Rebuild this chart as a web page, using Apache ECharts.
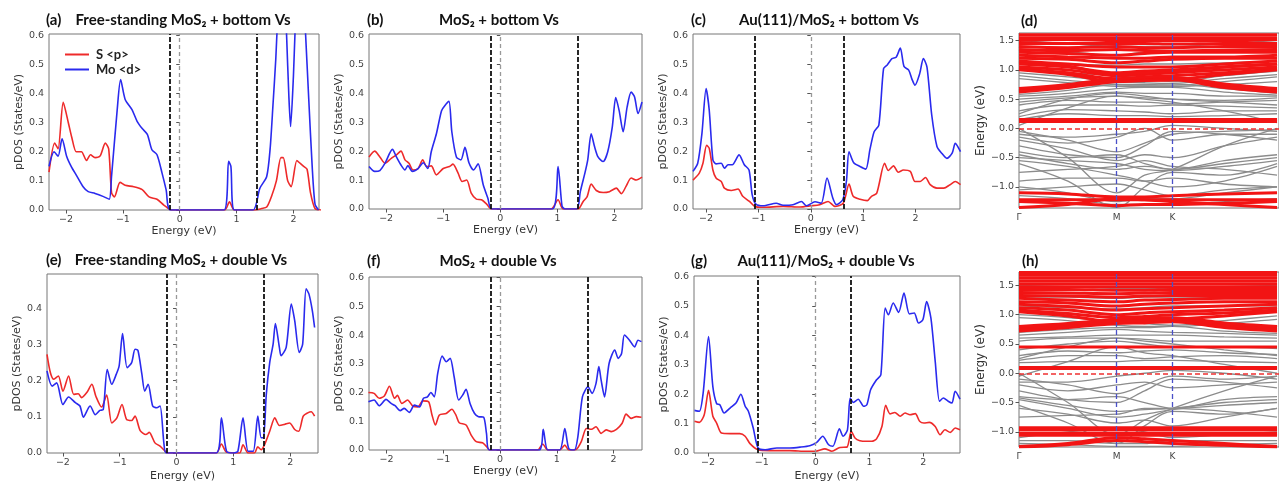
<!DOCTYPE html>
<html>
<head>
<meta charset="utf-8">
<script src="https://cdn.jsdelivr.net/npm/echarts@6/dist/echarts.min.js"></script>
<style>
  html, body { margin: 0; padding: 0; background: #fff; }
  #chart { width: 1279px; height: 483px; }
</style>
</head>
<body>
<div id="chart"></div>
<script>
// tick values
var energyTicks = [-2, -1, 0, 1, 2];
var pdosTicks = [0, 0.1, 0.2, 0.3, 0.4, 0.5, 0.6];
var pdosTicksE = [0, 0.1, 0.2, 0.3, 0.4];
var bandTicks = [-1.0, -0.5, 0, 0.5, 1.0, 1.5];
var kPoints = [0, 1, 1.57];
var kLabels = ['Γ', 'M', 'K'];
// k positions of the band samples: Γ, mid ΓM, M, mid MK, K, along KΓ, right edge
var bandK = [0, 0.5, 1, 1.285, 1.57, 2.1, 2.64];

// pDOS, [energy, value]
var aS = [[-2.30,0.13],[-2.2,0.23],[-2.14,0.21],[-2.05,0.37],[-1.96,0.30],[-1.9,0.25],[-1.82,0.20],[-1.73,0.20],[-1.64,0.17],[-1.57,0.19],[-1.49,0.18],[-1.40,0.186],[-1.31,0.23],[-1.25,0.21],[-1.2,0.06],[-1.15,0.045],[-1.05,0.095],[-0.96,0.085],[-0.81,0.08],[-0.66,0.07],[-0.54,0.045],[-0.40,0.037],[-0.28,0.017],[-0.17,0.002],[-0.1,0],[0.79,0],[0.875,0.028],[0.96,0],[1.32,0],[1.44,0.005],[1.53,0.01],[1.62,0.05],[1.7,0.1],[1.78,0.18],[1.82,0.18],[1.9,0.10],[1.96,0.08],[2.06,0.17],[2.12,0.16],[2.18,0.15],[2.24,0.14],[2.30,0.06],[2.38,0.005],[2.49,0]];
var aMo = [[-2.30,0.15],[-2.21,0.20],[-2.14,0.185],[-2.07,0.245],[-1.99,0.185],[-1.91,0.15],[-1.82,0.12],[-1.70,0.08],[-1.61,0.063],[-1.49,0.057],[-1.34,0.046],[-1.24,0.037],[-1.2,0.115],[-1.1,0.345],[-1.04,0.448],[-0.96,0.38],[-0.84,0.345],[-0.75,0.305],[-0.66,0.28],[-0.57,0.26],[-0.49,0.207],[-0.40,0.19],[-0.31,0.126],[-0.24,0.07],[-0.16,0],[0.78,0],[0.86,0.167],[0.9,0.15],[0.96,0],[1.29,0],[1.41,0.075],[1.53,0.115],[1.59,0.21],[1.64,0.36],[1.69,0.52],[1.72,0.65],[1.78,0.85],[1.84,0.8],[1.88,0.6],[1.92,0.39],[1.95,0.287],[2.0,0.46],[2.03,0.62],[2.08,0.8],[2.15,0.85],[2.21,0.62],[2.27,0.38],[2.33,0.15],[2.38,0.02],[2.44,0]];
var bS = [[-2.30,0.18],[-2.2,0.2],[-2.11,0.18],[-2.02,0.158],[-1.91,0.175],[-1.82,0.187],[-1.74,0.2],[-1.67,0.17],[-1.6,0.158],[-1.53,0.135],[-1.44,0.14],[-1.36,0.17],[-1.29,0.147],[-1.21,0.149],[-1.12,0.118],[-1.0,0.14],[-0.89,0.147],[-0.83,0.155],[-0.74,0.124],[-0.67,0.095],[-0.59,0.1],[-0.51,0.055],[-0.42,0.034],[-0.33,0.032],[-0.24,0.017],[-0.16,0],[0.89,0],[1.01,0.032],[1.1,0],[1.36,0],[1.45,0.026],[1.52,0.043],[1.59,0.086],[1.68,0.064],[1.8,0.057],[1.91,0.06],[2.03,0.072],[2.12,0.053],[2.2,0.078],[2.29,0.107],[2.38,0.1],[2.48,0.11]];
var bMo = [[-2.30,0.147],[-2.2,0.13],[-2.11,0.133],[-2.02,0.158],[-1.89,0.206],[-1.82,0.18],[-1.74,0.152],[-1.67,0.135],[-1.62,0.15],[-1.54,0.13],[-1.44,0.14],[-1.35,0.16],[-1.27,0.14],[-1.21,0.198],[-1.12,0.26],[-1.03,0.34],[-0.97,0.358],[-0.90,0.372],[-0.85,0.267],[-0.77,0.18],[-0.69,0.17],[-0.62,0.213],[-0.55,0.16],[-0.47,0.135],[-0.39,0.156],[-0.30,0.084],[-0.22,0.038],[-0.15,0],[0.91,0],[1.01,0.147],[1.08,0.01],[1.13,0],[1.34,0],[1.40,0.06],[1.48,0.124],[1.53,0.17],[1.59,0.26],[1.65,0.215],[1.71,0.18],[1.8,0.164],[1.88,0.198],[1.96,0.284],[2.02,0.385],[2.08,0.34],[2.15,0.267],[2.22,0.353],[2.29,0.404],[2.35,0.387],[2.41,0.33],[2.48,0.37]];
var cS = [[-2.25,0.10],[-2.13,0.124],[-2.06,0.158],[-1.99,0.22],[-1.94,0.21],[-1.87,0.135],[-1.81,0.107],[-1.71,0.095],[-1.65,0.072],[-1.52,0.064],[-1.39,0.069],[-1.30,0.044],[-1.17,0.026],[-1.07,0.009],[-0.91,0.006],[-0.53,0.009],[-0.21,0.007],[0,0.011],[0.17,0.015],[0.33,0.026],[0.46,0.009],[0.62,0.02],[0.73,0.086],[0.81,0.044],[0.94,0.034],[1.08,0.029],[1.16,0.044],[1.26,0.055],[1.41,0.158],[1.48,0.133],[1.58,0.149],[1.67,0.127],[1.77,0.135],[1.90,0.13],[1.99,0.095],[2.09,0.095],[2.19,0.109],[2.28,0.084],[2.41,0.072],[2.54,0.072],[2.66,0.084],[2.76,0.095],[2.86,0.084]];
var cMo = [[-2.25,0.13],[-2.16,0.158],[-2.08,0.26],[-2.0,0.416],[-1.94,0.342],[-1.87,0.17],[-1.81,0.156],[-1.71,0.158],[-1.65,0.141],[-1.58,0.153],[-1.50,0.153],[-1.37,0.187],[-1.27,0.153],[-1.18,0.135],[-1.12,0.05],[-1.05,0.017],[-0.91,0.011],[-0.66,0.02],[-0.53,0.013],[-0.34,0.015],[-0.18,0.026],[-0.08,0.011],[0.08,0.025],[0.2,0.02],[0.31,0.107],[0.42,0.038],[0.49,0.015],[0.61,0.032],[0.68,0.095],[0.73,0.198],[0.82,0.16],[0.94,0.147],[1.05,0.138],[1.13,0.206],[1.21,0.267],[1.30,0.29],[1.39,0.485],[1.46,0.498],[1.55,0.52],[1.63,0.525],[1.71,0.556],[1.78,0.493],[1.87,0.48],[1.93,0.45],[1.99,0.428],[2.08,0.468],[2.15,0.52],[2.22,0.49],[2.31,0.325],[2.41,0.216],[2.50,0.193],[2.60,0.175],[2.70,0.193],[2.76,0.227],[2.86,0.198]];
var eS = [[-2.28,0.273],[-2.22,0.222],[-2.16,0.204],[-2.08,0.213],[-2.0,0.171],[-1.90,0.213],[-1.81,0.162],[-1.73,0.164],[-1.67,0.153],[-1.58,0.167],[-1.49,0.19],[-1.42,0.157],[-1.32,0.127],[-1.23,0.16],[-1.14,0.083],[-1.05,0.097],[-0.96,0.134],[-0.88,0.093],[-0.79,0.09],[-0.73,0.102],[-0.64,0.062],[-0.54,0.051],[-0.48,0.057],[-0.38,0.028],[-0.29,0.019],[-0.20,0.005],[-0.16,0],[0.70,0],[0.79,0.025],[0.88,0.002],[1.11,0],[1.17,0.023],[1.26,0],[1.37,0],[1.43,0.017],[1.49,0.009],[1.55,0.023],[1.64,0.06],[1.73,0.097],[1.81,0.076],[1.90,0.079],[1.99,0.083],[2.08,0.065],[2.15,0.06],[2.23,0.102],[2.31,0.111],[2.37,0.114],[2.43,0.102]];
var eMo = [[-2.28,0.227],[-2.19,0.185],[-2.11,0.194],[-2.0,0.134],[-1.90,0.155],[-1.78,0.139],[-1.70,0.13],[-1.64,0.099],[-1.55,0.125],[-1.52,0.13],[-1.43,0.106],[-1.35,0.118],[-1.29,0.12],[-1.22,0.231],[-1.14,0.19],[-1.06,0.218],[-1.01,0.241],[-0.95,0.33],[-0.87,0.236],[-0.79,0.25],[-0.73,0.287],[-0.68,0.284],[-0.61,0.218],[-0.56,0.171],[-0.50,0.19],[-0.42,0.13],[-0.35,0.125],[-0.29,0.13],[-0.22,0.023],[-0.18,0],[0.70,0],[0.79,0.097],[0.88,0.005],[1.0,0],[1.08,0.005],[1.17,0.097],[1.26,0.005],[1.35,0.005],[1.43,0.102],[1.49,0.042],[1.53,0.042],[1.58,0.162],[1.64,0.25],[1.70,0.301],[1.74,0.358],[1.81,0.292],[1.84,0.269],[1.93,0.292],[2.02,0.412],[2.08,0.366],[2.16,0.278],[2.22,0.301],[2.28,0.454],[2.33,0.44],[2.39,0.394],[2.43,0.347]];
var fS = [[-2.32,0.2],[-2.22,0.197],[-2.13,0.18],[-2.04,0.188],[-1.95,0.222],[-1.86,0.18],[-1.81,0.19],[-1.73,0.162],[-1.63,0.174],[-1.54,0.153],[-1.45,0.15],[-1.36,0.171],[-1.26,0.168],[-1.2,0.122],[-1.14,0.087],[-1.07,0.122],[-0.95,0.127],[-0.85,0.142],[-0.78,0.122],[-0.72,0.095],[-0.60,0.087],[-0.51,0.052],[-0.42,0.029],[-0.31,0.025],[-0.24,0.012],[-0.18,0],[0.66,0],[0.75,0.021],[0.84,0],[1.05,0],[1.14,0.017],[1.21,0],[1.34,0.002],[1.43,0.029],[1.52,0.075],[1.61,0.072],[1.69,0.081],[1.78,0.058],[1.87,0.07],[1.96,0.064],[2.05,0.072],[2.15,0.093],[2.22,0.125],[2.31,0.11],[2.40,0.116],[2.49,0.114]];
var fMo = [[-2.32,0.168],[-2.22,0.174],[-2.13,0.154],[-2.01,0.176],[-1.92,0.162],[-1.85,0.154],[-1.76,0.137],[-1.69,0.145],[-1.60,0.131],[-1.51,0.156],[-1.42,0.15],[-1.35,0.18],[-1.28,0.185],[-1.22,0.2],[-1.16,0.185],[-1.1,0.266],[-1.02,0.327],[-0.95,0.307],[-0.88,0.319],[-0.81,0.255],[-0.73,0.174],[-0.66,0.191],[-0.6,0.211],[-0.53,0.162],[-0.45,0.127],[-0.38,0.116],[-0.29,0.114],[-0.24,0.058],[-0.19,0],[0.69,0],[0.76,0.072],[0.84,0],[1.05,0],[1.14,0.075],[1.21,0.005],[1.31,0],[1.37,0.046],[1.45,0.185],[1.55,0.22],[1.62,0.197],[1.69,0.232],[1.74,0.29],[1.78,0.243],[1.84,0.185],[1.92,0.301],[2.02,0.348],[2.08,0.319],[2.14,0.336],[2.19,0.4],[2.28,0.382],[2.37,0.359],[2.43,0.382],[2.49,0.377]];
var gS = [[-2.25,0.108],[-2.16,0.104],[-2.07,0.13],[-1.99,0.213],[-1.91,0.125],[-1.84,0.102],[-1.75,0.068],[-1.59,0.066],[-1.41,0.066],[-1.31,0.057],[-1.22,0.032],[-1.07,0.011],[-0.85,0.008],[-0.48,0.008],[-0.17,0.006],[0,0.006],[0.17,0.014],[0.30,0.006],[0.45,0.019],[0.58,0.02],[0.66,0.074],[0.73,0.051],[0.82,0.042],[0.95,0.04],[1.04,0.04],[1.13,0.048],[1.23,0.09],[1.30,0.162],[1.38,0.133],[1.47,0.138],[1.57,0.125],[1.66,0.136],[1.75,0.13],[1.85,0.134],[1.93,0.108],[2.01,0.102],[2.11,0.104],[2.22,0.09],[2.31,0.062],[2.40,0.079],[2.50,0.07],[2.59,0.085],[2.68,0.079]];
var gMo = [[-2.25,0.145],[-2.16,0.142],[-2.09,0.204],[-1.99,0.396],[-1.91,0.226],[-1.84,0.168],[-1.78,0.164],[-1.70,0.136],[-1.59,0.153],[-1.48,0.17],[-1.39,0.2],[-1.31,0.159],[-1.25,0.142],[-1.16,0.085],[-1.07,0.017],[-0.94,0.011],[-0.72,0.017],[-0.48,0.017],[-0.29,0.02],[-0.11,0.025],[0.02,0.036],[0.13,0.057],[0.24,0.028],[0.32,0.023],[0.44,0.082],[0.51,0.057],[0.59,0.079],[0.64,0.187],[0.70,0.172],[0.79,0.183],[0.89,0.159],[0.95,0.164],[1.02,0.215],[1.13,0.249],[1.21,0.266],[1.29,0.493],[1.35,0.47],[1.44,0.51],[1.54,0.478],[1.64,0.544],[1.74,0.473],[1.83,0.476],[1.91,0.442],[1.99,0.453],[2.06,0.515],[2.14,0.459],[2.22,0.311],[2.30,0.176],[2.37,0.187],[2.46,0.176],[2.53,0.17],[2.59,0.21],[2.68,0.183]];

// band edges (black dashed) for each pDOS panel
var aEdges = [-0.17, 1.35];
var bEdges = [-0.16, 1.36];
var cEdges = [-1.07, 0.62];
var eEdges = [-0.165, 1.53];
var fEdges = [-0.17, 1.55];
var gEdges = [-1.07, 0.66];

// bands (energies at bandK)
var dGray = [
  [1.5,1.45,1.4,1.4,1.4,1.45,1.5],[1.3,1.3,1.25,1.3,1.3,1.3,1.3],[1.15,1.1,1.08,1.1,1.1,1.12,1.15],
  [1.0,0.95,0.9,0.85,0.8,0.9,0.98],[0.95,0.88,0.8,0.78,0.77,0.85,0.92],[0.9,0.82,0.75,0.74,0.74,0.8,0.88],
  [0.85,0.78,0.72,0.72,0.72,0.75,0.8],[0.58,0.65,0.75,0.75,0.76,0.68,0.6],[0.55,0.6,0.68,0.7,0.7,0.62,0.57],
  [0.5,0.55,0.62,0.6,0.6,0.55,0.55],[0.45,0.52,0.55,0.52,0.5,0.48,0.52],[0.4,0.48,0.45,0.45,0.42,0.45,0.48],
  [0.3,0.4,0.4,0.38,0.4,0.38,0.35],[0.2,0.32,0.3,0.28,0.25,0.3,0.3],[0.15,0.25,0.22,0.22,0.2,0.22,0.25],
  [0.25,0.5,0.6,0.55,0.5,0.45,0.4],[0.05,0.35,0.55,0.5,0.45,0.3,0.1],
  [-0.05,-0.2,-0.4,-0.25,-0.1,-0.05,-0.02],[-0.1,-0.15,-0.1,-0.05,0.05,0.0,-0.05],[-0.15,-0.25,-0.15,0.0,-0.2,-0.1,-0.1],
  [-0.2,-0.35,-0.55,-0.45,-0.5,-0.3,-0.15],[0.0,-0.5,-1.1,-0.8,-0.7,-0.3,0.0],[-0.4,-0.5,-0.45,-0.6,-0.7,-0.55,-0.45],
  [-0.45,-0.6,-0.7,-0.65,-0.7,-0.6,-0.5],[-0.5,-0.55,-0.6,-0.7,-0.72,-0.65,-0.55],[-0.6,-0.9,-1.35,-1.0,-0.75,-0.8,-0.6],
  [-0.55,-0.65,-0.8,-0.9,-1.0,-0.9,-0.65],[-0.9,-0.85,-0.85,-0.9,-0.85,-0.95,-1.0],[-1.05,-1.0,-0.95,-1.05,-1.15,-1.05,-1.0],
  [-1.0,-1.1,-1.25,-1.2,-1.2,-1.1,-1.0],[-1.15,-1.2,-1.3,-1.3,-1.3,-1.25,-1.2],[-0.3,-0.45,-0.5,-0.3,-0.05,-0.1,-0.2],
  [-0.75,-0.7,-0.65,-0.55,-0.65,-0.7,-0.8]
];
var dRed = [
  [0.62,0.7,0.8,0.82,0.83,0.7,0.62],[0.65,0.72,0.82,0.84,0.85,0.73,0.65],[0.68,0.75,0.85,0.86,0.87,0.76,0.68],
  [1.0,0.92,0.8,0.82,0.83,0.92,1.0],[1.02,0.95,0.85,0.88,0.9,0.95,1.02],[1.05,1.0,0.9,0.92,0.95,1.0,1.05],
  [1.1,1.05,0.95,0.98,1.0,1.05,1.1],[1.12,1.06,0.92,0.95,0.98,1.05,1.1],[1.15,1.1,1.05,1.05,1.05,1.1,1.15],
  [1.2,1.18,1.12,1.15,1.18,1.2,1.2],[1.25,1.22,1.2,1.2,1.22,1.22,1.25],[1.3,1.28,1.25,1.28,1.3,1.3,1.3],
  [1.35,1.33,1.35,1.33,1.32,1.34,1.35],[1.4,1.38,1.4,1.38,1.38,1.4,1.4],[1.45,1.45,1.45,1.45,1.44,1.45,1.45],
  [1.5,1.52,1.5,1.5,1.5,1.5,1.52],[1.55,1.55,1.55,1.55,1.55,1.55,1.55],[1.6,1.6,1.6,1.6,1.6,1.6,1.6],
  [0.12,0.12,0.12,0.12,0.12,0.12,0.12],[0.15,0.15,0.15,0.15,0.15,0.15,0.15],
  [-1.1,-1.12,-1.17,-1.17,-1.15,-1.12,-1.1],[-1.22,-1.22,-1.22,-1.22,-1.22,-1.22,-1.22],
  [-1.25,-1.28,-1.32,-1.3,-1.3,-1.28,-1.25],[-1.35,-1.3,-1.2,-1.22,-1.25,-1.3,-1.35]
];
var hGray = [
  [1.5,1.48,1.45,1.45,1.45,1.48,1.5],[1.3,1.3,1.28,1.3,1.3,1.3,1.3],[1.15,1.12,1.1,1.12,1.15,1.15,1.15],
  [1.0,0.95,0.88,0.85,0.82,0.9,0.98],[0.95,0.9,0.82,0.8,0.8,0.85,0.92],[0.7,0.75,0.78,0.78,0.8,0.72,0.68],
  [0.65,0.7,0.75,0.72,0.7,0.68,0.65],[0.6,0.62,0.65,0.65,0.65,0.62,0.6],[0.55,0.6,0.6,0.58,0.55,0.55,0.55],
  [0.4,0.5,0.55,0.5,0.45,0.45,0.42],[0.3,0.38,0.35,0.38,0.4,0.35,0.32],[0.22,0.3,0.3,0.25,0.28,0.3,0.25],
  [0.18,0.2,0.2,0.22,0.22,0.2,0.18],[0.25,0.45,0.6,0.55,0.5,0.4,0.3],[-0.05,0.2,0.45,0.35,0.3,0.15,0.0],
  [-0.1,-0.2,-0.35,-0.2,-0.05,-0.1,-0.05],[-0.15,-0.15,-0.05,0.0,0.05,0.0,-0.1],[-0.2,-0.3,-0.2,-0.15,-0.25,-0.2,-0.15],
  [0.0,-0.5,-1.05,-0.8,-0.6,-0.3,-0.05],[-0.4,-0.45,-0.4,-0.5,-0.6,-0.45,-0.4],[-0.42,-0.55,-0.65,-0.62,-0.6,-0.5,-0.45],
  [-0.45,-0.6,-0.75,-0.7,-0.62,-0.55,-0.5],[-0.55,-0.85,-1.2,-0.9,-0.65,-0.7,-0.6],[-0.6,-0.7,-0.85,-0.8,-0.9,-0.75,-0.6],
  [-0.3,-0.45,-0.5,-0.3,-0.1,-0.15,-0.25],[-0.75,-0.72,-0.7,-0.6,-0.6,-0.65,-0.75],[-1.1,-1.0,-0.95,-1.0,-1.1,-1.05,-1.0],
  [-1.15,-1.15,-1.2,-1.2,-1.15,-1.15,-1.15],[-1.2,-1.22,-1.25,-1.25,-1.25,-1.22,-1.2]
];
var hRed = [
  [0.72,0.78,0.85,0.86,0.88,0.78,0.72],[0.75,0.8,0.88,0.9,0.9,0.8,0.75],[0.78,0.82,0.9,0.92,0.93,0.83,0.78],
  [0.8,0.85,0.92,0.95,0.95,0.86,0.8],[1.05,0.98,0.88,0.9,0.92,0.98,1.05],[1.08,1.02,0.95,0.97,1.0,1.03,1.08],
  [1.12,1.08,1.0,1.03,1.05,1.08,1.12],[1.18,1.14,1.08,1.1,1.12,1.15,1.18],[1.22,1.2,1.15,1.18,1.2,1.22,1.22],
  [1.28,1.25,1.22,1.25,1.26,1.28,1.28],[1.33,1.32,1.3,1.32,1.33,1.33,1.33],[1.38,1.37,1.36,1.37,1.38,1.38,1.38],
  [1.43,1.43,1.42,1.42,1.43,1.43,1.43],[1.48,1.48,1.48,1.48,1.48,1.48,1.48],[1.53,1.53,1.53,1.53,1.53,1.53,1.53],
  [1.58,1.58,1.58,1.58,1.58,1.58,1.58],[1.63,1.63,1.63,1.63,1.63,1.63,1.63],[1.68,1.68,1.68,1.68,1.68,1.68,1.68],
  [1.72,1.72,1.72,1.72,1.72,1.72,1.72],
  [0.45,0.45,0.45,0.45,0.45,0.45,0.45],[0.08,0.08,0.08,0.08,0.08,0.08,0.08],[0.1,0.1,0.1,0.1,0.1,0.1,0.1],
  [-0.93,-0.93,-0.93,-0.93,-0.93,-0.93,-0.93],[-0.97,-0.97,-0.97,-0.97,-0.97,-0.97,-0.97],
  [-1.03,-1.03,-1.03,-1.03,-1.03,-1.03,-1.03],[-1.06,-1.06,-1.06,-1.06,-1.06,-1.06,-1.06],
  [-1.25,-1.2,-1.1,-1.12,-1.15,-1.2,-1.25],[-1.26,-1.22,-1.15,-1.17,-1.2,-1.23,-1.26]
];

var chart = echarts.init(document.getElementById('chart'));
var sColor = '#ee2a2a', moColor = '#2a2aee';
var tickFont = { fontFamily: 'DejaVu Sans', fontSize: 9.5, color: '#444' };
var nameFont = { fontFamily: 'DejaVu Sans', fontSize: 11, color: '#333' };

function minus(v, digits) {
    var s = digits ? Math.abs(v).toFixed(digits) : String(Math.abs(v));
    return (v < 0 ? '\u2212' : '') + s;
}

var dosPanels = [
    { tag: '(a)', title: 'Free-standing MoS\u2082 + bottom Vs', tagX: 46, titleX: 183, titleY: 20,
      grid: { left: 49, top: 34, width: 270, height: 176 }, x: [-2.30, 2.45], yMax: 0.605, yTicks: pdosTicks,
      s: aS, mo: aMo, edges: aEdges, xGap: 15, yGap: 23 },
    { tag: '(b)', title: 'MoS\u2082 + bottom Vs', tagX: 367, titleX: 499, titleY: 20,
      grid: { left: 369, top: 34, width: 273, height: 175 }, x: [-2.30, 2.48], yMax: 0.605, yTicks: pdosTicks,
      s: bS, mo: bMo, edges: bEdges, xGap: 15, yGap: 20 },
    { tag: '(c)', title: 'Au(111)/MoS\u2082 + bottom Vs', tagX: 691, titleX: 829, titleY: 20,
      grid: { left: 693, top: 34, width: 267, height: 175 }, x: [-2.25, 2.85], yMax: 0.605, yTicks: pdosTicks,
      s: cS, mo: cMo, edges: cEdges, xGap: 15, yGap: 17 },
    { tag: '(e)', title: 'Free-standing MoS\u2082 + double Vs', tagX: 46, titleX: 181, titleY: 260,
      grid: { left: 47, top: 274, width: 271, height: 181 }, x: [-2.28, 2.49], yMax: 0.495, yTicks: pdosTicksE,
      s: eS, mo: eMo, edges: eEdges, xGap: 18, yGap: 23 },
    { tag: '(f)', title: 'MoS\u2082 + double Vs', tagX: 367, titleX: 498, titleY: 261,
      grid: { left: 369, top: 277, width: 273, height: 173 }, x: [-2.31, 2.50], yMax: 0.602, yTicks: pdosTicks,
      s: fS, mo: fMo, edges: fEdges, xGap: 15, yGap: 20 },
    { tag: '(g)', title: 'Au(111)/MoS\u2082 + double Vs', tagX: 691, titleX: 826, titleY: 261,
      grid: { left: 694, top: 276, width: 266, height: 177 }, x: [-2.26, 2.68], yMax: 0.602, yTicks: pdosTicks,
      s: gS, mo: gMo, edges: gEdges, xGap: 18, yGap: 21 }
];

var bandPanels = [
    { tag: '(d)', tagX: 1021, titleY: 21, grid: { left: 1019, top: 33, width: 262, height: 175 },
      y: [-1.36, 1.63], gray: dGray, red: dRed },
    { tag: '(h)', tagX: 1022, titleY: 261, grid: { left: 1019, top: 272, width: 262, height: 175 },
      y: [-1.26, 1.73], gray: hGray, red: hRed }
];

var grids = [], xAxes = [], yAxes = [], series = [], graphics = [];

function addTitle(x, y, text, align) {
    graphics.push({
        type: 'text', x: x, y: y, silent: true,
        style: { text: text, font: 'bold 15px Lato', fill: '#111', align: align, verticalAlign: 'middle' }
    });
}

dosPanels.forEach(function (p) {
    var i = grids.length;
    grids.push({ left: p.grid.left, top: p.grid.top, width: p.grid.width, height: p.grid.height,
                 show: true, borderColor: '#777', borderWidth: 1 });
    xAxes.push({
        type: 'value', gridIndex: i, min: p.x[0], max: p.x[1],
        name: 'Energy (eV)', nameLocation: 'middle', nameGap: p.xGap, nameTextStyle: nameFont,
        axisLine: { show: false }, splitLine: { show: false },
        axisTick: { customValues: energyTicks, length: 3.5, lineStyle: { color: '#555' } },
        axisLabel: Object.assign({ customValues: energyTicks, margin: 5,
                                   formatter: function (v) { return minus(v); } }, tickFont)
    });
    yAxes.push({
        type: 'value', gridIndex: i, min: 0, max: p.yMax,
        name: 'pDOS (States/eV)', nameLocation: 'middle', nameGap: p.yGap, nameTextStyle: nameFont,
        axisLine: { show: false }, splitLine: { show: false },
        axisTick: { customValues: p.yTicks, length: 3.5, lineStyle: { color: '#555' } },
        axisLabel: Object.assign({ customValues: p.yTicks, margin: 5,
                                   formatter: function (v) { return minus(v, 1); } }, tickFont)
    });
    series.push({
        name: 'S <p>', type: 'line', xAxisIndex: i, yAxisIndex: i, data: p.s,
        symbol: 'none', smooth: 0.25, lineStyle: { color: sColor, width: 1.6 }, itemStyle: { color: sColor }
    });
    series.push({
        name: 'Mo <d>', type: 'line', xAxisIndex: i, yAxisIndex: i, data: p.mo,
        symbol: 'none', smooth: 0.25, lineStyle: { color: moColor, width: 1.6 }, itemStyle: { color: moColor },
        markLine: {
            symbol: 'none', silent: true, label: { show: false }, animation: false,
            data: [
                { xAxis: 0, lineStyle: { color: '#999', width: 1.3, type: [4, 3] } },
                { xAxis: p.edges[0], lineStyle: { color: '#111', width: 1.8, type: [5, 2] } },
                { xAxis: p.edges[1], lineStyle: { color: '#111', width: 1.8, type: [5, 2] } }
            ]
        }
    });
    addTitle(p.tagX, p.titleY, p.tag, 'left');
    addTitle(p.titleX, p.titleY, p.title, 'center');
});

bandPanels.forEach(function (p) {
    var i = grids.length;
    grids.push({ left: p.grid.left, top: p.grid.top, width: p.grid.width, height: p.grid.height,
                 show: true, borderColor: '#777', borderWidth: 1 });
    xAxes.push({
        type: 'value', gridIndex: i, min: 0, max: 2.66,
        axisLine: { show: false }, splitLine: { show: false },
        axisTick: { customValues: kPoints, length: 3.5, lineStyle: { color: '#555' } },
        axisLabel: Object.assign({ customValues: kPoints, margin: 5,
                                   formatter: function (v) { return kLabels[kPoints.indexOf(v)] || ''; } },
                                 tickFont, { fontSize: 9 })
    });
    yAxes.push({
        type: 'value', gridIndex: i, min: p.y[0], max: p.y[1],
        name: 'Energy (eV)', nameLocation: 'middle', nameGap: 26,
        nameTextStyle: Object.assign({}, nameFont, { fontSize: 12 }),
        axisLine: { show: false }, splitLine: { show: false },
        axisTick: { customValues: bandTicks, length: 3.5, lineStyle: { color: '#555' } },
        axisLabel: Object.assign({ customValues: bandTicks, margin: 5,
                                   formatter: function (v) { return minus(v, 1); } }, tickFont)
    });
    p.gray.forEach(function (band) {
        series.push({
            type: 'line', xAxisIndex: i, yAxisIndex: i, symbol: 'none', smooth: 0.35, z: 2,
            data: bandK.map(function (k, j) { return [k, band[j]]; }),
            lineStyle: { color: '#8c8c8c', width: 1.3 }
        });
    });
    p.red.forEach(function (band, n) {
        var s = {
            type: 'line', xAxisIndex: i, yAxisIndex: i, symbol: 'none', smooth: 0.35, z: 3,
            data: bandK.map(function (k, j) { return [k, band[j]]; }),
            lineStyle: { color: '#f21414', width: 3 }
        };
        if (n === 0) {
            s.markLine = {
                symbol: 'none', silent: true, label: { show: false }, animation: false,
                data: [
                    { yAxis: 0, lineStyle: { color: '#f03030', width: 1.6, type: [5, 3] } },
                    { xAxis: kPoints[1], lineStyle: { color: '#4a50c8', width: 1.3, type: [5, 3] } },
                    { xAxis: kPoints[2], lineStyle: { color: '#4a50c8', width: 1.3, type: [5, 3] } }
                ]
            };
        }
        series.push(s);
    });
    addTitle(p.tagX, p.titleY, p.tag, 'left');
});

var option = {
    animation: false,
    backgroundColor: '#fff',
    grid: grids,
    xAxis: xAxes,
    yAxis: yAxes,
    legend: {
        data: [{ name: 'S <p>', icon: 'rect' }, { name: 'Mo <d>', icon: 'rect' }],
        orient: 'vertical', left: 60, top: 43,
        itemWidth: 24, itemHeight: 2, itemGap: 2,
        textStyle: { fontFamily: 'Lato', fontWeight: 'bold', fontSize: 13, color: '#222', padding: [0, 0, 0, 2] }
    },
    graphic: graphics,
    series: series
};
chart.setOption(option);
</script>
</body>
</html>
